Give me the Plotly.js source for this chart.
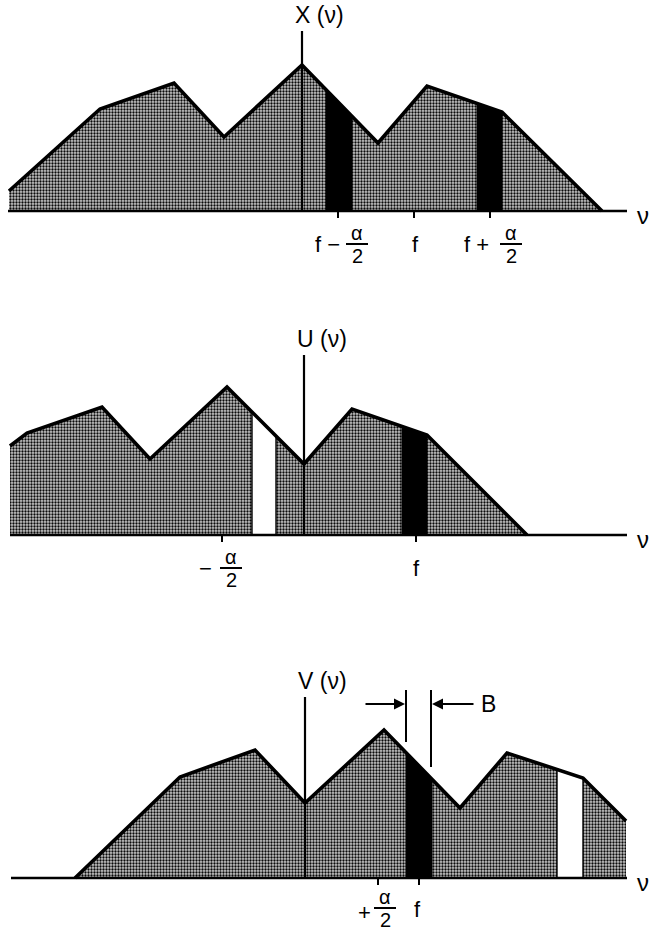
<!DOCTYPE html>
<html>
<head>
<meta charset="utf-8">
<script src="https://cdn.plot.ly/plotly-3.0.1.min.js"></script>
<style>html,body{margin:0;padding:0;background:#fff}#chart{width:651px;height:932px}</style>
</head>
<body>
<div id="chart"></div>
<script>
// ---------- DATA (ν measured from each panel's vertical axis; height above the ν-axis) ----------
// Panel 1: X(ν)
const x_nu   = [-293, -202, -128, -78, 0, 76, 125, 200, 300];
const x_amp  = [20, 102, 128, 74, 146, 68, 125, 99, 0];
const x_blackBands = [[24, 50], [175, 200]];
const x_blackTops  = [[121, 95], [108, 99]];
const x_ticks = [36, 112, 188];

// Panel 2: U(ν)
const u_nu   = [-294, -277, -202, -154, -77, 0, 48, 123, 223];
const u_amp  = [89, 102, 128, 76, 148, 71, 126, 100, 0];
const u_whiteBands = [[-52, -28]];
const u_whiteTops  = [[123, 99]];
const u_blackBands = [[98, 123]];
const u_blackTops  = [[109, 100]];
const u_ticks = [-82, 112];

// Panel 3: V(ν)
const v_nu   = [-230, -125, -50, 0, 79, 155, 202, 278, 321];
const v_amp  = [0, 101, 128, 75, 148, 70, 125, 100, 57];
const v_blackBands = [[101, 127]];
const v_blackTops  = [[125, 99]];
const v_whiteBands = [[252, 278]];
const v_whiteTops  = [[109, 100]];
const v_ticks = [73, 114];
const v_bandEdges  = [101, 126];     // the two B marker lines
const v_bandEdgeBottoms = [136, 111];
const v_bandEdgeTop = 188;

// axis extents (ν)
const baselineSpan = [[-294, 325], [-294, 323], [-294, 322]];
const axisTop = [180, 180, 181];
const titles = ['X (ν)', 'U (ν)', 'V (ν)'];

// ---------- LAYOUT GEOMETRY ----------
const W = 651, H = 932;
const panels = [
  {origin: 302, top: 0,   bottom: 270, base: 211},
  {origin: 304, top: 300, bottom: 600, base: 535},
  {origin: 305, top: 640, bottom: 932, base: 878}
];
const FONT = 'Liberation Sans Narrow, Liberation Sans, Arial, sans-serif';
const pattern = {shape: '.', bgcolor: '#c8c8c8', fgcolor: '#0a0a0a', size: 3, solidity: 0.47};

const traces = [];
const annotations = [];
const shapes = [];

function ax(i){ return i === 0 ? ['x','y'] : ['x' + (i+1), 'y' + (i+1)]; }

function spectrum(i, nu, amp, blacks, blackTops, whites, whiteTops) {
  const [xa, ya] = ax(i);
  const polyX = nu.concat([nu[nu.length-1], nu[0]]);
  const polyY = amp.concat([0, 0]);
  traces.push({x: polyX, y: polyY, xaxis: xa, yaxis: ya, mode: 'lines', fill: 'toself',
    fillcolor: '#9a9a9a', fillpattern: pattern, line: {width: 0, color: 'rgba(0,0,0,0)'}, hoverinfo: 'skip'});
  (whites || []).forEach((b, k) => {
    traces.push({x: [b[0], b[0], b[1], b[1], b[0]], y: [0, whiteTops[k][0], whiteTops[k][1], 0, 0],
      xaxis: xa, yaxis: ya, mode: 'lines', fill: 'toself', fillcolor: '#ffffff',
      line: {width: 1.4, color: '#000'}, hoverinfo: 'skip'});
  });
  (blacks || []).forEach((b, k) => {
    traces.push({x: [b[0], b[0], b[1], b[1], b[0]], y: [0, blackTops[k][0], blackTops[k][1], 0, 0],
      xaxis: xa, yaxis: ya, mode: 'lines', fill: 'toself', fillcolor: '#000',
      line: {width: 1, color: '#000'}, hoverinfo: 'skip'});
  });
  // outline
  traces.push({x: nu, y: amp, xaxis: xa, yaxis: ya, mode: 'lines',
    line: {width: 3.6, color: '#000', shape: 'linear'}, hoverinfo: 'skip'});
  // baseline
  traces.push({x: baselineSpan[i], y: [0, 0], xaxis: xa, yaxis: ya, mode: 'lines',
    line: {width: 2.6, color: '#000'}, hoverinfo: 'skip'});
  // vertical axis
  traces.push({x: [0, 0], y: [0, axisTop[i]], xaxis: xa, yaxis: ya, mode: 'lines',
    line: {width: 2.2, color: '#000'}, hoverinfo: 'skip'});
}

function ticks(i, vals) {
  const [xa, ya] = ax(i);
  const tx = [], ty = [];
  vals.forEach(v => { tx.push(v, v, null); ty.push(1, -7, null); });
  traces.push({x: tx, y: ty, xaxis: xa, yaxis: ya, mode: 'lines',
    line: {width: 2, color: '#000'}, hoverinfo: 'skip'});
}

spectrum(0, x_nu, x_amp, x_blackBands, x_blackTops);
spectrum(1, u_nu, u_amp, u_blackBands, u_blackTops, u_whiteBands, u_whiteTops);
spectrum(2, v_nu, v_amp, v_blackBands, v_blackTops, v_whiteBands, v_whiteTops);
ticks(0, x_ticks); ticks(1, u_ticks); ticks(2, v_ticks);

// B marker lines
{
  const tx = [], ty = [];
  v_bandEdges.forEach((e, k) => { tx.push(e, e, null); ty.push(v_bandEdgeTop, v_bandEdgeBottoms[k], null); });
  traces.push({x: tx, y: ty, xaxis: 'x3', yaxis: 'y3', mode: 'lines',
    line: {width: 2, color: '#000'}, hoverinfo: 'skip'});
}

// ---------- TEXT ----------
function txt(i, x, y, text, opts) {
  const [xa, ya] = ax(i);
  annotations.push(Object.assign({xref: xa, yref: ya, x: x, y: y, text: text, showarrow: false,
    font: {family: FONT, size: 22, color: '#000'}, xanchor: 'center', yanchor: 'middle'}, opts || {}));
}
function frac(i, tick, dx, dy) {
  const [xa, ya] = ax(i);
  dy = dy || 0;
  const f = {family: FONT, size: 20, color: '#000'};
  txt(i, tick, 0, 'α', {xshift: dx, yshift: -22 + dy, font: f});
  txt(i, tick, 0, '2', {xshift: dx, yshift: -45 + dy, font: f});
  shapes.push({type: 'line', xref: xa, yref: ya, xsizemode: 'pixel', ysizemode: 'pixel',
    xanchor: tick, yanchor: 0, x0: dx - 11, x1: dx + 11, y0: -33 + dy, y1: -33 + dy,
    line: {width: 2, color: '#000'}});
}

// titles (first letter centred on the vertical axis) and the ν axis names
titles.forEach((t, i) => {
  txt(i, 0, axisTop[i], t, {xanchor: 'left', yanchor: 'bottom', xshift: -9, yshift: 1, font: {family: FONT, size: 23, color: '#000'}});
  txt(i, baselineSpan[i][1], 0, 'ν', {xanchor: 'center', xshift: 16, yshift: -4, font: {family: FONT, size: 24, color: '#000'}});
});

// panel 1 tick labels
txt(0, x_ticks[0], 0, 'f −', {xanchor: 'right', xshift: 4, yshift: -33});
frac(0, x_ticks[0], 19);
txt(0, x_ticks[1], 0, 'f', {yshift: -33, xshift: 1});
txt(0, x_ticks[2], 0, 'f +', {xanchor: 'right', xshift: 1, yshift: -33});
frac(0, x_ticks[2], 21);

// panel 2 tick labels
txt(1, u_ticks[0], 0, '−', {xshift: -17, yshift: -33});
frac(1, u_ticks[0], 9);
txt(1, u_ticks[1], 0, 'f', {yshift: -33});

// panel 3 tick labels
txt(2, v_ticks[0], 0, '+', {xshift: -14, yshift: -34});
frac(2, v_ticks[0], 7, 3);
txt(2, v_ticks[1], 0, 'f', {yshift: -31, xshift: -2});

// B arrows and label
annotations.push({xref: 'x3', yref: 'y3', axref: 'x3', ayref: 'y3', x: v_bandEdges[0] - 1, y: 174, ax: v_bandEdges[0] - 42, ay: 174,
  text: '', showarrow: true, arrowhead: 2, arrowsize: 1.1, arrowwidth: 2, arrowcolor: '#000', standoff: 0, startstandoff: 0});
annotations.push({xref: 'x3', yref: 'y3', axref: 'x3', ayref: 'y3', x: v_bandEdges[1] + 1, y: 174, ax: v_bandEdges[1] + 44, ay: 174,
  text: '', showarrow: true, arrowhead: 2, arrowsize: 1.1, arrowwidth: 2, arrowcolor: '#000', standoff: 0, startstandoff: 0});
txt(2, v_bandEdges[1] + 44, 174, 'B', {xanchor: 'left', xshift: 4, font: {family: FONT, size: 23, color: '#000'}});

// ---------- AXES ----------
const layout = {width: W, height: H, margin: {l: 0, r: 0, t: 0, b: 0}, showlegend: false,
  paper_bgcolor: '#fff', plot_bgcolor: '#fff', annotations: annotations, shapes: shapes};
panels.forEach((p, i) => {
  const xk = i === 0 ? 'xaxis' : 'xaxis' + (i+1);
  const yk = i === 0 ? 'yaxis' : 'yaxis' + (i+1);
  const ya = i === 0 ? 'y' : 'y' + (i+1);
  const xa = i === 0 ? 'x' : 'x' + (i+1);
  layout[xk] = {range: [-p.origin, W - p.origin], domain: [0, 1], anchor: ya, visible: false, fixedrange: true};
  layout[yk] = {range: [-(p.bottom - p.base), p.base - p.top], domain: [1 - p.bottom / H, 1 - p.top / H],
    anchor: xa, visible: false, fixedrange: true};
});

Plotly.newPlot('chart', traces, layout, {displayModeBar: false, staticPlot: true});
</script>
</body>
</html>
